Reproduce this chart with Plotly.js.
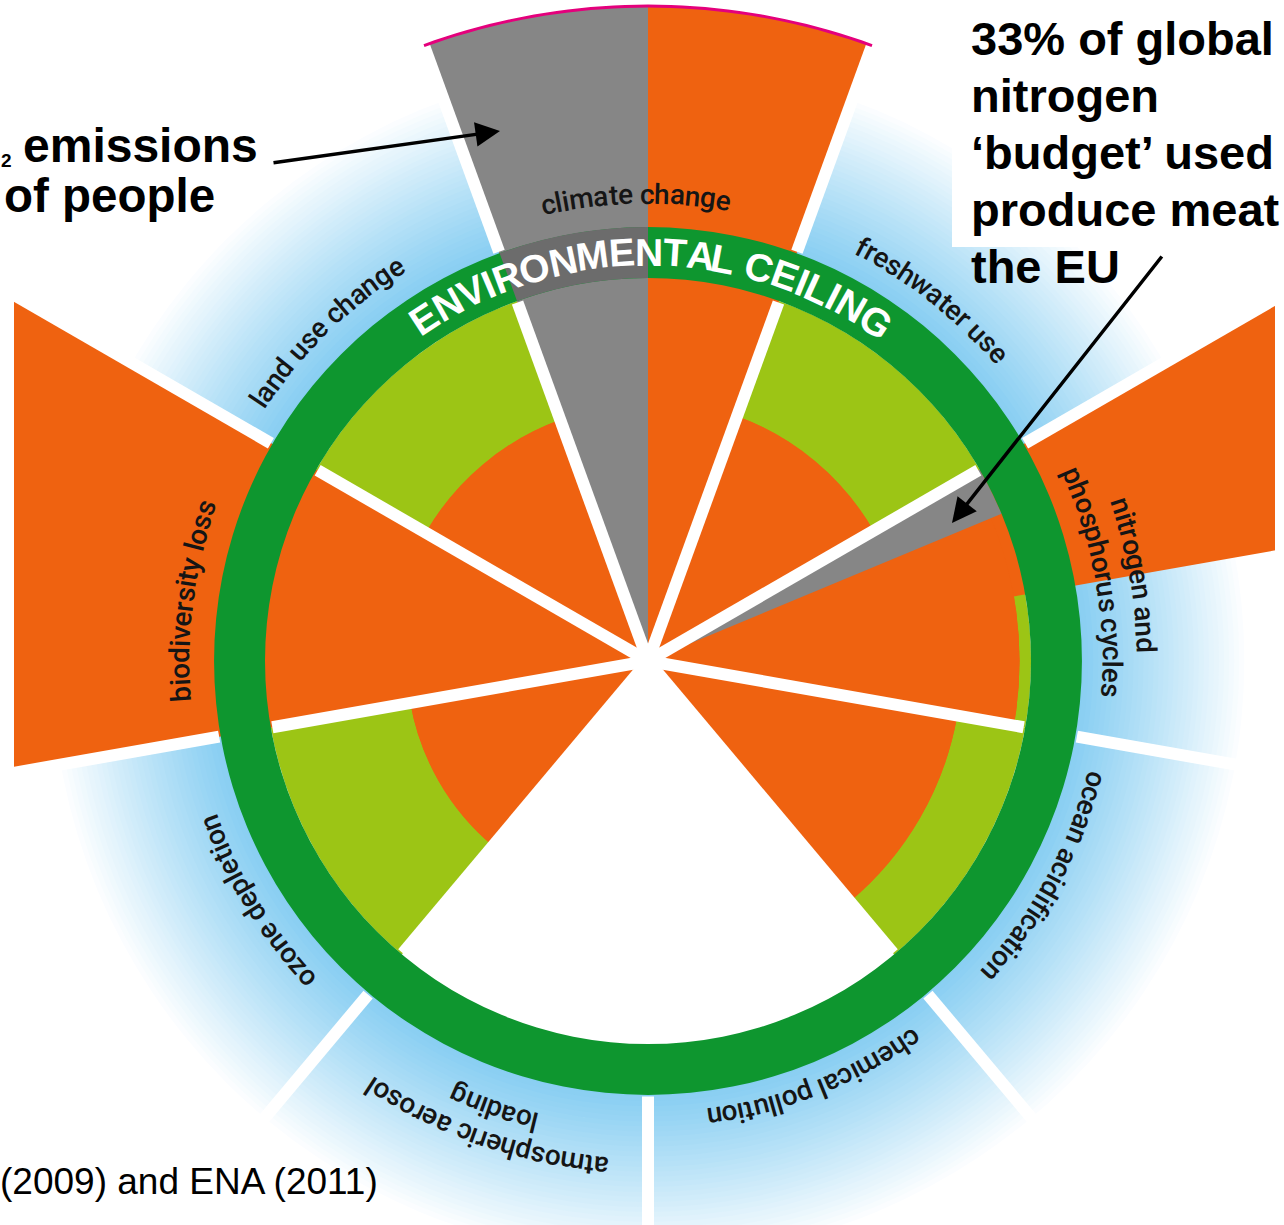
<!DOCTYPE html>
<html><head><meta charset="utf-8">
<script src="https://cdn.plot.ly/plotly-3.0.1.min.js"></script>
<style>
html,body{margin:0;padding:0;overflow:hidden;background:#fff;}
#wrap{position:relative;width:1284px;height:1225px;overflow:hidden;background:#fff;}
#chart{position:absolute;left:-102px;top:-89px;width:1500px;height:1500px;}
</style></head>
<body><div id="wrap"><div id="chart"></div></div>
<script>
// ---------------- data ----------------
const boundaries = ['climate change', 'freshwater use', 'nitrogen and\nphosphorus cycles',
  'ocean acidification', 'chemical pollution', 'atmospheric aerosol\nloading',
  'ozone depletion', 'biodiversity loss', 'land use change'];
// pressure relative to the environmental ceiling (ceiling = 1), first and second half of each sector
const pressureFirstHalf  = [1.71, 0.68, 2.20, 0.82, null, null, 0.63, 2.20, 0.67];
const pressureSecondHalf = [1.71, 0.68, 0.97, 0.82, null, null, 0.63, 2.20, 0.67];
// grey part (EU meat) : share of the first half-sector and how far out it reaches
const meatShare = [1.00, 0, 0.37, 0, 0, 0, 0, 0, 0];
const meatReach = [1.71, 0, 1.00, 0, 0, 0, 0, 0, 0];
const ceiling = 1.0;
const ceilingBand = 0.133;
const ringTitle = 'ENVIRONMENTAL CEILING';
const noteLeft = ['2', 'emissions', 'of people'];
const noteRight = ['33% of global', 'nitrogen', '‘budget’ used', 'produce meat', 'the EU'];
const sourceNote = '(2009) and ENA (2011)';

// ---------------- geometry / style ----------------
const OFFX = -102, OFFY = -89, SIZE = 1500;
const CX = OFFX + SIZE / 2, CY = OFFY + SIZE / 2;  // page centre of the polar plot
const UNIT = 383;                                   // px per ceiling unit
const RMAX = (SIZE / 2) / UNIT;
const ORANGE = '#ef6210', LIME = '#9cc515', GREEN = '#0e962f', GREY = '#868686', DGREY = '#6c6c6c';
const FONT = 'Liberation Sans, Arial, sans-serif';
const LFONT = 'Roboto';
const px = x => (x - OFFX) / SIZE;
const py = y => 1 - (y - OFFY) / SIZE;

const n = boundaries.length;
const sector = 360 / n, half = sector / 2;
const traces = [];
const bar = (theta, r, base, width, color) => ({type: 'barpolar', theta, r, base, width,
  marker: {color, line: {width: 0}}, hoverinfo: 'skip'});

// blue halo outside the ceiling
const NB = 34, h0 = (ceiling + ceilingBand) - 0.01, h1 = 1.57;
const c0 = [136, 206, 242];
for (let k = 0; k < NB; k++) {
  const t = Math.pow(k / (NB - 1), 1.1);
  const col = c0.map(c => Math.round(c + (255 - c) * t));
  const step = (h1 - h0) / NB;
  traces.push(bar([0], [step + 0.003], [h0 + k * step], [360], `rgb(${col.join(',')})`));
}

// safe space below the ceiling (lime), drawn under the pressure bars
const lTheta = [];
for (let i = 0; i < n; i++) {
  const a = pressureFirstHalf[i], b = pressureSecondHalf[i];
  if (a !== null && b !== null && Math.min(a, b) < ceiling) lTheta.push(i * sector);
}
traces.push(bar(lTheta, lTheta.map(() => ceiling), lTheta.map(() => 0), lTheta.map(() => sector), LIME));

// pressure (orange): each half-sector, then the common part over the whole sector
const oTheta = [], oR = [], fTheta = [], fR = [];
for (let i = 0; i < n; i++) {
  const a = pressureFirstHalf[i], b = pressureSecondHalf[i];
  if (a !== null) { oTheta.push(i * sector - half / 2); oR.push(a); }
  if (b !== null) { oTheta.push(i * sector + half / 2); oR.push(b); }
  if (a !== null && b !== null) { fTheta.push(i * sector); fR.push(Math.min(a, b)); }
}
traces.push(bar(oTheta, oR, oTheta.map(() => 0), oTheta.map(() => half), ORANGE));
traces.push(bar(fTheta, fR, fTheta.map(() => 0), fTheta.map(() => sector), ORANGE));

// grey share
const gTheta = [], gR = [], gW = [];
for (let i = 0; i < n; i++) if (meatShare[i] > 0) {
  gW.push(meatShare[i] * half); gTheta.push(i * sector - half + meatShare[i] * half / 2); gR.push(meatReach[i]);
}
traces.push(bar(gTheta, gR, gTheta.map(() => 0), gW, GREY));

// environmental ceiling ring
traces.push(bar([0], [ceilingBand], [ceiling], [360], GREEN));
const dTheta = [], dW = [];
for (let i = 0; i < n; i++) if (meatShare[i] > 0 && meatReach[i] > ceiling) {
  dTheta.push(i * sector - half + meatShare[i] * half / 2); dW.push(meatShare[i] * half);
}
traces.push(bar(dTheta, dTheta.map(() => ceilingBand), dTheta.map(() => ceiling), dW, DGREY));

// white spokes between boundaries (interrupted by the ceiling ring)
for (let i = 0; i < n; i++) {
  const th = i * sector + half;
  traces.push({type: 'scatterpolar', mode: 'lines', connectgaps: false,
    r: [0, ceiling - 0.004, null, ceiling + ceilingBand + 0.004, RMAX], theta: [th, th, th, th, th],
    line: {color: '#ffffff', width: 12}, hoverinfo: 'skip'});
}

// magenta edge on the climate-change bar
{
  const th = [], rr = [];
  for (let a = -half; a <= half + 0.01; a += 1) { th.push(a); rr.push(a < 0 ? pressureFirstHalf[0] : pressureSecondHalf[0]); }
  traces.push({type: 'scatterpolar', mode: 'lines', r: rr, theta: th,
    line: {color: '#e4007c', width: 3}, hoverinfo: 'skip'});
}

// ---------------- curved labels ----------------
const ctx = document.createElement('canvas').getContext('2d');
const annotations = [];
function arcLabel(text, thetaMid, rPx, size, weight, color, family, cssFamily) {
  ctx.font = `${weight} ${size}px ${cssFamily}`;
  const total = ctx.measureText(text).width;
  const start = thetaMid - total / rPx * 180 / Math.PI / 2;
  for (let i = 0; i < text.length; i++) {
    const ch = text[i];
    if (ch === ' ') continue;
    const pre = ctx.measureText(text.slice(0, i)).width;
    const w = ctx.measureText(ch).width;
    const th = start + (pre + w / 2) / rPx * 180 / Math.PI;
    const rad = th * Math.PI / 180;
    const x = CX + rPx * Math.sin(rad), y = CY - rPx * Math.cos(rad);
    let ang = ((th % 360) + 360) % 360; if (ang > 180) ang -= 360;
    annotations.push({xref: 'paper', yref: 'paper', x: px(x), y: py(y), text: ch, showarrow: false,
      xanchor: 'center', yanchor: 'middle', textangle: ang,
      font: {family: family, size: size, color: color, weight: weight}});
  }
}
const labelPlace = [
  {a: -1.5, r: [467]}, {a: 38.2, r: [466]}, {a: 80, r: [498, 464]}, {a: 118.5, r: [463]},
  {a: 158.4, r: [461]}, {a: 199, r: [507, 475]}, {a: 238.4, r: [467]}, {a: 277.5, r: [468]}, {a: 315.7, r: [468]}];
boundaries.forEach((b, i) => {
  b.split('\n').forEach((line, j) => arcLabel(line, labelPlace[i].a, labelPlace[i].r[j], 28, 500, '#151515', LFONT, 'Roboto'));
});
arcLabel(ringTitle, 0.5, 409, 39, 'bold', '#ffffff', FONT, '"Liberation Sans"');

// ---------------- notes & arrows ----------------
const bold = s => ({family: FONT, size: s, color: '#000', weight: 'bold'});
annotations.push({xref: 'paper', yref: 'paper', x: px(-1), y: py(161), text: noteLeft[0], showarrow: false,
  xanchor: 'left', yanchor: 'middle', font: bold(19)});
annotations.push({xref: 'paper', yref: 'paper', x: px(21), y: py(145), text: noteLeft[1], showarrow: false,
  xanchor: 'left', yanchor: 'middle', font: bold(48)});
annotations.push({xref: 'paper', yref: 'paper', x: px(2), y: py(196), text: noteLeft[2], showarrow: false,
  xanchor: 'left', yanchor: 'middle', font: bold(47.5)});
noteRight.forEach((t, k) => annotations.push({xref: 'paper', yref: 'paper', x: px(969), y: py(38 + 57.2 * k),
  text: t, showarrow: false, xanchor: 'left', yanchor: 'middle', font: bold(47)}));
annotations.push({xref: 'paper', yref: 'paper', x: px(-2), y: py(1181), text: sourceNote, showarrow: false,
  xanchor: 'left', yanchor: 'middle', font: {family: FONT, size: 37, color: '#000'}});
annotations.push({xref: 'paper', yref: 'paper', x: px(500), y: py(131), text: '', showarrow: true,
  ax: 272 - 500, ay: 163 - 131, arrowhead: 2, arrowsize: 1.4, arrowwidth: 3.5, arrowcolor: '#000', standoff: 0});
annotations.push({xref: 'paper', yref: 'paper', x: px(952), y: py(523), text: '', showarrow: true,
  ax: 1163 - 952, ay: 255 - 523, arrowhead: 2, arrowsize: 1.4, arrowwidth: 3.5, arrowcolor: '#000', standoff: 0});

// white masks at the picture edges and behind the right note
const rect = (x0, y0, x1, y1) => ({type: 'rect', xref: 'paper', yref: 'paper', x0: px(x0), x1: px(x1), y0: py(y1), y1: py(y0),
  fillcolor: '#ffffff', line: {width: 0}, layer: 'above'});
const shapes = [rect(-5, -5, 14, 1230), rect(1275, -5, 1300, 1230), rect(952, -5, 1300, 247)];

const layout = {
  width: SIZE, height: SIZE, margin: {l: 0, r: 0, t: 0, b: 0}, paper_bgcolor: '#ffffff',
  showlegend: false, hovermode: false,
  polar: {domain: {x: [0, 1], y: [0, 1]}, bgcolor: 'rgba(0,0,0,0)', barmode: 'overlay', hole: 0,
    radialaxis: {visible: false, range: [0, RMAX]},
    angularaxis: {visible: false, rotation: 90, direction: 'clockwise', thetaunit: 'degrees'}},
  annotations: annotations, shapes: shapes
};
Plotly.newPlot('chart', traces, layout, {staticPlot: true, displayModeBar: false});
</script></body></html>
